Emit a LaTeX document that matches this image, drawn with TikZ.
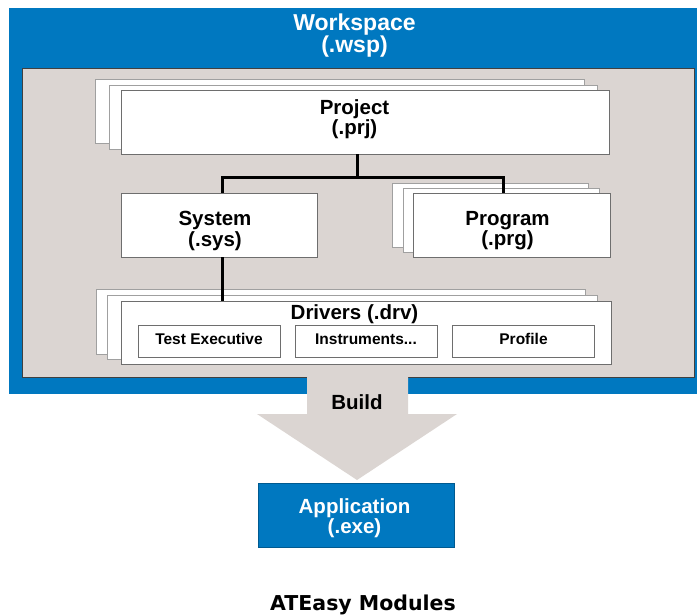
\documentclass[tikz,border=0pt]{standalone}
\usepackage{fontspec}
\setmainfont{Liberation Sans}
\newfontfamily\capfont{DejaVu Sans}

\definecolor{wspblue}{HTML}{0078C0}
\definecolor{appline}{HTML}{005A90}
\definecolor{areagray}{HTML}{DBD5D2}
\definecolor{backgray}{HTML}{A0A0A0}
\definecolor{frontgray}{HTML}{6E6E6E}

\begin{document}
\begin{tikzpicture}[
            x = 1pt, y = -1pt, % pixel grid, y pointing down
            wire/.style = {line width = 3pt, black}, % tree lines
            semithick
        ]

        \tikzstyle{sheet}=[
            draw = backgray,
            fill = white,
            line width = 0.8pt,
            inner sep = 0pt,
            minimum height = 64pt
        ]
        \tikzstyle{front}=[sheet, draw = frontgray]
        \tikzstyle{title}=[
            font = \bfseries\fontsize{20.5}{17.5}\selectfont,
            align = center,
            inner sep = 0pt
        ]
        \tikzstyle{module}=[
            draw = frontgray,
            fill = white,
            line width = 0.8pt,
            minimum width = 142pt,
            minimum height = 32pt,
            inner sep = 0pt,
            font = \bfseries\fontsize{15.5}{18}\selectfont,
            text height = 11.5pt,
            text depth = 4.5pt
        ]

	\useasboundingbox (0,0) rectangle (699,614);

	% workspace frame and build arrow
	\fill[wspblue] (9,8) rectangle (697,394);
	\filldraw[fill = areagray, draw = black!75, line width = 0.8pt] (22,68) rectangle (694,377);
	\fill[areagray] (307,376) -- (408,376) -- (408,414) -- (457,414)
	    -- (357,480) -- (257,414) -- (307,414) -- cycle;

	\node[title, white, font = \bfseries\fontsize{23}{19.5}\selectfont] (wsp) at (354.5,35.5) {Workspace\\(.wsp)};

	% project
	\node[sheet, minimum width = 489pt] (prj3) at (339.5,111) {};
	\node[sheet, minimum width = 488pt] (prj2) at (353,117) {};
	\node[front, minimum width = 488pt] (prj) at (365,122) {};
	\node[title] (prjtxt) at (354.5,119) {Project\\(.prj)};

	% system and program
	\node[front, minimum width = 196pt] (sys) at (219,225) {};
	\node[title] (systxt) at (215,231) {System\\(.sys)};

	\node[sheet, minimum width = 196pt] (prg3) at (490,215) {};
	\node[sheet, minimum width = 196pt] (prg2) at (501,220) {};
	\node[front, minimum width = 197pt] (prg) at (511.5,225) {};
	\node[title] (prgtxt) at (507.5,231) {Program\\(.prg)};

	% drivers
	\node[sheet, minimum width = 489pt, minimum height = 65pt] (drv3) at (340.5,321.5) {};
	\node[sheet, minimum width = 490pt] (drv2) at (352,327) {};
	\node[front, minimum width = 490pt, minimum height = 63pt] (drv) at (366,332.5) {};
	\node[title, anchor = base] (drvtxt) at (354.5,319) {Drivers (.drv)};

	\node[module] (tex) at (209,341) {Test Executive};
	\node[module] (ins) at (366,341) {Instruments...};
	\node[module] (prf) at (523.5,341) {Profile};

	% build result
	\node[title, anchor = base] (build) at (357,409) {Build};
	\node[draw = appline, fill = wspblue, line width = 0.8pt,
	      minimum width = 196pt, minimum height = 64pt] (app) at (356,515) {};
	\node[title, white] (apptxt) at (354.5,518.3) {Application\\(.exe)};

	\node[anchor = base, font = \capfont\bfseries\fontsize{20.5}{24}\selectfont] (caption) at (363,610) {ATEasy Modules};

	% tree
	\coordinate (fork) at (357,177);
	\draw[wire] (prj.south -| fork) -- (fork);
	\draw[wire] ([xshift = 3pt]sys.north) |- (fork) -| ([xshift = -8.5pt]prg.north);
	\draw[wire] ([xshift = 3pt]sys.south) -- ([xshift = 3pt]sys.south |- drv.north);

\end{tikzpicture}
\end{document}
